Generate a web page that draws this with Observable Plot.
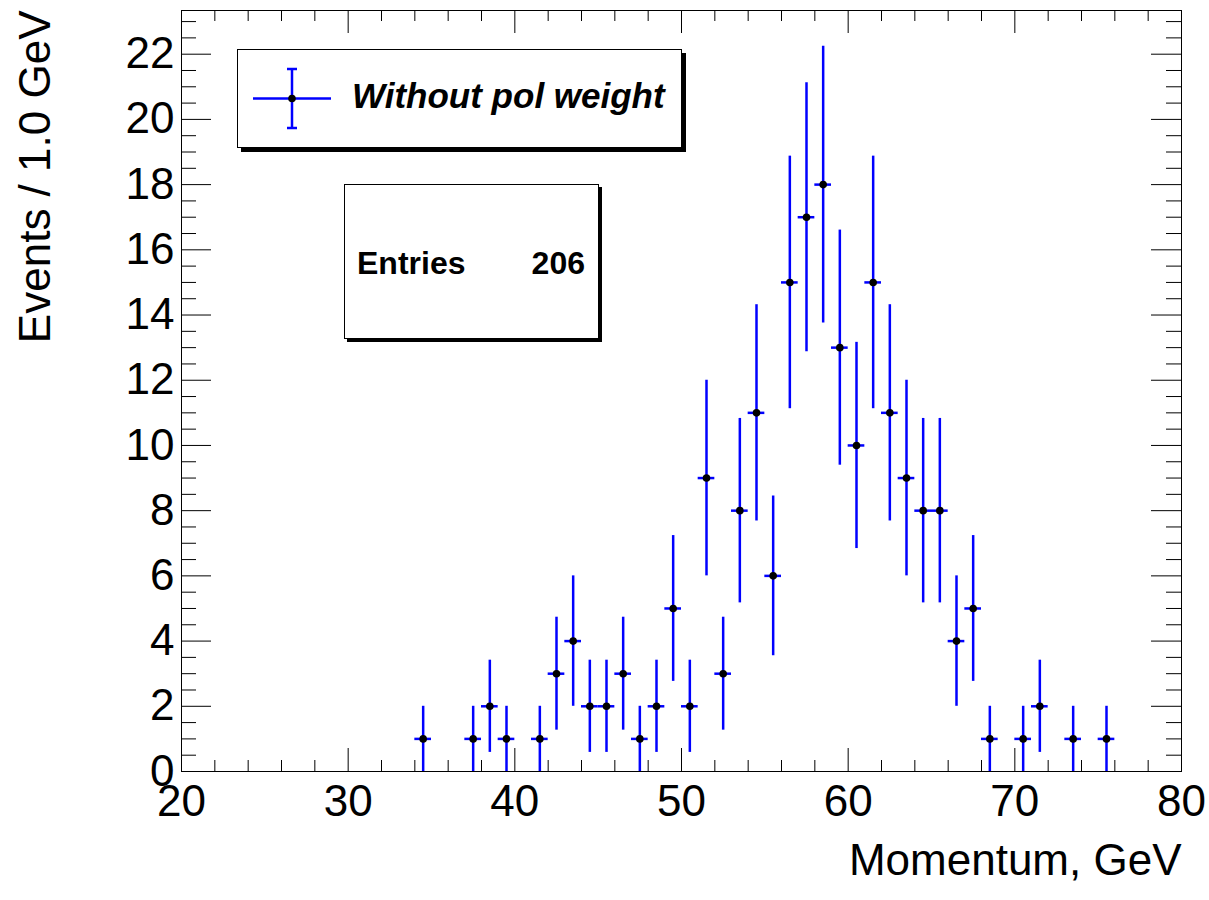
<!DOCTYPE html>
<html>
<head>
<meta charset="utf-8">
<script src="https://cdn.jsdelivr.net/npm/d3@7"></script>
<script src="https://cdn.jsdelivr.net/npm/@observablehq/plot@0.6"></script>
<style>
  html, body { margin: 0; padding: 0; background: #fff; }
  #wrap { position: relative; width: 1209px; height: 900px; font-family: "Liberation Sans", Arial, Helvetica, sans-serif; }
  .box { position: absolute; box-sizing: border-box; background: #fff; border: 1px solid #000; }
  #legend { left: 237px; top: 49px; width: 445px; height: 99px; box-shadow: 4px 4px 0 #000; }
  #legend svg { position: absolute; left: 0; top: 0; }
  #legend .lbl { position: absolute; left: 114px; top: 26px; font-size: 35px; font-weight: bold; font-style: italic; line-height: 40px; white-space: nowrap; }
  #stats { left: 344px; top: 184px; width: 255px; height: 155px; box-shadow: 3px 3px 0 #000; }
  #stats .k { position: absolute; left: 12px; top: 60px; font-size: 32px; font-weight: bold; line-height: 36px; }
  #stats .v { position: absolute; right: 13px; top: 60px; font-size: 32px; font-weight: bold; line-height: 36px; }
</style>
</head>
<body>
<div id="wrap"></div>
<script>
// ---- data ----
const binCenters = [34.5, 37.5, 38.5, 39.5, 41.5, 42.5, 43.5, 44.5, 45.5, 46.5, 47.5, 48.5, 49.5, 50.5, 51.5, 52.5, 53.5, 54.5, 55.5, 56.5, 57.5, 58.5, 59.5, 60.5, 61.5, 62.5, 63.5, 64.5, 65.5, 66.5, 67.5, 68.5, 70.5, 71.5, 73.5, 75.5];
const counts     = [1,    1,    2,    1,    1,    3,    4,    2,    2,    3,    1,    2,    5,    2,    9,    3,    8,    11,   6,    15,   17,   18,   13,   10,   15,   11,   9,    8,    8,    4,    5,    1,    1,    2,    1,    1];
const binWidth = 1.0;
const xTickLabels = [20, 30, 40, 50, 60, 70, 80];
const yTickLabels = [0, 2, 4, 6, 8, 10, 12, 14, 16, 18, 20, 22];
const xMinorStep = 2;
const yMinorStep = 0.5;
const xTitle = "Momentum, GeV";
const yTitle = "Events / 1.0 GeV";
const legendLabel = "Without pol weight";
const entriesLabel = "Entries";

const entries = d3.sum(counts);
const data = binCenters.map((x, i) => ({x, n: counts[i], err: Math.sqrt(counts[i])}));

const W = 1209, H = 900;
const mL = 181, mR = 28, mT = 10, mB = 129;
const innerH = H - mT - mB;
const innerW = W - mL - mR;

const xDomain = [20, 80];
const yDomain = [0, 23.34];
const xMinor = d3.range(xDomain[0], xDomain[1] + 1e-9, xMinorStep).filter(v => !xTickLabels.includes(v));
const yMinor = d3.range(yDomain[0], yDomain[1], yMinorStep).filter(v => !yTickLabels.includes(v));

const blue = "#0000ff";
const xMajLen = 23, xMinLen = 11, yMajLen = 30, yMinLen = 15;

const chart = Plot.plot({
  width: W, height: H,
  marginLeft: mL, marginRight: mR, marginTop: mT, marginBottom: mB,
  x: {domain: xDomain, label: null},
  y: {domain: yDomain, label: null},
  style: {fontFamily: '"Liberation Sans", Arial, Helvetica, sans-serif', color: "#000", background: "#fff", overflow: "visible"},
  marks: [
    // ticks inside frame
    Plot.ruleX(xTickLabels, {x: d => d, insetTop: innerH - xMajLen, stroke: "#000", strokeWidth: 1}),
    Plot.ruleX(xTickLabels, {x: d => d, insetBottom: innerH - xMajLen, stroke: "#000", strokeWidth: 1}),
    Plot.ruleX(xMinor, {x: d => d, insetTop: innerH - xMinLen, stroke: "#000", strokeWidth: 1}),
    Plot.ruleX(xMinor, {x: d => d, insetBottom: innerH - xMinLen, stroke: "#000", strokeWidth: 1}),
    Plot.ruleY(yTickLabels, {y: d => d, insetRight: innerW - yMajLen, stroke: "#000", strokeWidth: 1}),
    Plot.ruleY(yTickLabels, {y: d => d, insetLeft: innerW - yMajLen, stroke: "#000", strokeWidth: 1}),
    Plot.ruleY(yMinor, {y: d => d, insetRight: innerW - yMinLen, stroke: "#000", strokeWidth: 1}),
    Plot.ruleY(yMinor, {y: d => d, insetLeft: innerW - yMinLen, stroke: "#000", strokeWidth: 1}),
    Plot.frame({stroke: "#000", strokeWidth: 1}),
    // tick labels
    Plot.axisX(xTickLabels, {tickSize: 0, tickPadding: 13, fontSize: 44, label: null, tickFormat: d => String(d)}),
    Plot.axisY(yTickLabels, {tickSize: 0, tickPadding: 7, fontSize: 44, label: null, tickFormat: d => String(d)}),
    // titles
    Plot.text([xTitle], {text: d => d, frameAnchor: "bottom-right", textAnchor: "end", fontSize: 44, dy: 103}),
    Plot.text([yTitle], {text: d => d, frameAnchor: "top-left", rotate: -90, textAnchor: "end", fontSize: 44, dx: -163, dy: 0}),
    // error bars
    Plot.ruleX(data, {x: "x", y1: d => Math.max(0, d.n - d.err), y2: d => d.n + d.err, stroke: blue, strokeWidth: 2.5}),
    Plot.ruleY(data, {y: "n", x1: d => d.x - binWidth / 2, x2: d => d.x + binWidth / 2, stroke: blue, strokeWidth: 2.5}),
    Plot.dot(data, {x: "x", y: "n", r: 3.8, fill: "#000", stroke: "none"})
  ]
});

const wrap = document.getElementById("wrap");
wrap.appendChild(chart);

// legend box (inside the frame)
const legend = document.createElement("div");
legend.id = "legend"; legend.className = "box";
legend.innerHTML = `
<svg width="110" height="97" xmlns="http://www.w3.org/2000/svg">
  <line x1="15" y1="48.5" x2="93" y2="48.5" stroke="${blue}" stroke-width="2.5"/>
  <line x1="54" y1="19" x2="54" y2="78" stroke="${blue}" stroke-width="2.5"/>
  <line x1="49" y1="19" x2="59" y2="19" stroke="${blue}" stroke-width="2.5"/>
  <line x1="49" y1="78" x2="59" y2="78" stroke="${blue}" stroke-width="2.5"/>
  <circle cx="54" cy="48.5" r="3.8" fill="#000"/>
</svg>
<div class="lbl"></div>`;
legend.querySelector(".lbl").textContent = legendLabel;
wrap.appendChild(legend);

// stats box
const stats = document.createElement("div");
stats.id = "stats"; stats.className = "box";
stats.innerHTML = `<div class="k"></div><div class="v"></div>`;
stats.querySelector(".k").textContent = entriesLabel;
stats.querySelector(".v").textContent = String(entries);
wrap.appendChild(stats);
</script>
</body>
</html>
